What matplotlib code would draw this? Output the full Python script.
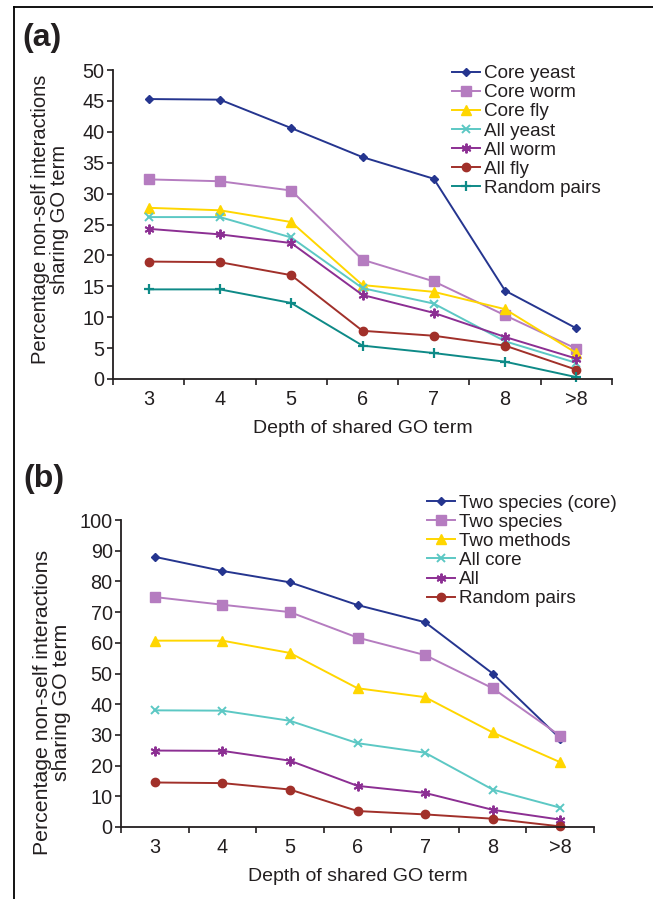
import matplotlib
matplotlib.use("Agg")
import matplotlib.pyplot as plt
from matplotlib.lines import Line2D

plt.rcParams['font.family'] = ['Liberation Sans', 'DejaVu Sans']
TXT = '#231f20'
plt.rcParams['text.color'] = TXT
plt.rcParams['axes.labelcolor'] = TXT
plt.rcParams['xtick.color'] = TXT
plt.rcParams['ytick.color'] = TXT

depths = ['3', '4', '5', '6', '7', '8', '>8']

# Panel (a)
core_yeast = [45.3, 45.2, 40.6, 35.9, 32.4, 14.3, 8.2]
core_worm = [32.3, 32.0, 30.5, 19.3, 15.8, 10.3, 4.9]
core_fly = [27.7, 27.3, 25.4, 15.2, 14.1, 11.3, 4.2]
all_yeast = [26.2, 26.2, 22.9, 14.7, 12.2, 6.1, 2.6]
all_worm = [24.3, 23.4, 22.0, 13.6, 10.7, 6.8, 3.3]
all_fly = [19.0, 18.9, 16.8, 7.8, 7.0, 5.4, 1.5]
random_a = [14.5, 14.5, 12.3, 5.4, 4.2, 2.8, 0.3]

# Panel (b)
two_species_core = [88.0, 83.4, 79.7, 72.3, 66.7, 50.0, 28.8]
two_species = [74.9, 72.4, 70.0, 61.7, 56.0, 45.2, 29.7]
two_methods = [60.7, 60.7, 56.7, 45.2, 42.3, 30.8, 21.1]
all_core = [38.0, 37.9, 34.6, 27.3, 24.2, 12.2, 6.3]
all_b = [24.9, 24.8, 21.6, 13.4, 11.1, 5.6, 2.4]
random_b = [14.5, 14.3, 12.2, 5.2, 4.1, 2.7, 0.2]

YLABEL = 'Percentage non-self interactions\nsharing GO term'
XLABEL = 'Depth of shared GO term'

NAVY = '#25358f'
ORCHID = '#b57cc0'
YELLOW = '#ffd600'
TURQ = '#5cc8c4'
PURPLE = '#8c2f93'
DRED = '#a1302a'
TEAL = '#0e8a87'

W, H = 653, 899
fig = plt.figure(figsize=(W / 100, H / 100), dpi=100)

FS_TICK = 14.3
FS_XLAB = 14
FS_LEG = 13.6

def px_rect(l, t, r, b):
    return [l / W, 1 - b / H, (r - l) / W, (b - t) / H]

def style_axes(ax, ymax, ystep):
    x = list(range(len(depths)))
    ax.set_xlim(-0.5, len(depths) - 0.5)
    ax.set_ylim(0, ymax)
    ax.set_yticks(list(range(0, ymax + 1, ystep)))
    ax.set_xticks(x)
    ax.set_xticklabels(depths)
    ax.set_xticks([i - 0.5 for i in range(len(depths) + 1)], minor=True)
    ax.tick_params(axis='x', which='major', length=0, pad=8, labelsize=FS_TICK)
    ax.tick_params(axis='x', which='minor', length=4, width=1.2, direction='out')
    ax.tick_params(axis='y', length=4, width=1.2, direction='out', pad=2, labelsize=FS_TICK)
    for s in ['top', 'right']:
        ax.spines[s].set_visible(False)
    for s in ['left', 'bottom']:
        ax.spines[s].set_linewidth(1.3)
        ax.spines[s].set_color(TXT)
    ax.set_xlabel(XLABEL, fontsize=FS_XLAB, labelpad=8)

def ylabel(cx_px, cy_px, fs):
    fig.text(cx_px / W, 1 - cy_px / H, YLABEL, rotation=90, ha='center', va='center',
             multialignment='center', fontsize=fs, linespacing=1.0)

def series(ax, vals, color, marker, ms, label, mew=1.0):
    ax.plot(range(len(vals)), vals, color=color, marker=marker, markersize=ms,
            markeredgecolor=color, markerfacecolor=color, markeredgewidth=mew,
            linewidth=1.4, label=label, clip_on=False)

AST = (6, 2, 0)

def legend(ax, x_px, top_px):
    ax.legend(loc='upper left', bbox_to_anchor=(x_px / W, 1 - top_px / H),
              bbox_transform=fig.transFigure, frameon=False, fontsize=FS_LEG,
              borderpad=0, borderaxespad=0, handlelength=1.5, handletextpad=0.2,
              labelspacing=0.1)

# ---------- (a)
axa = fig.add_axes(px_rect(113, 70, 612, 379))
series(axa, core_yeast, NAVY, 'D', 4.5, 'Core yeast')
series(axa, core_worm, ORCHID, 's', 6.5, 'Core worm')
series(axa, core_fly, YELLOW, '^', 7, 'Core fly')
series(axa, all_yeast, TURQ, 'x', 6, 'All yeast', mew=1.4)
series(axa, all_worm, PURPLE, AST, 7, 'All worm', mew=1.4)
series(axa, all_fly, DRED, 'o', 6, 'All fly')
series(axa, random_a, TEAL, '+', 7, 'Random pairs', mew=1.6)
style_axes(axa, 50, 5)
legend(axa, 452, 65)
ylabel(50, 219, 14.5)

# ---------- (b)
axb = fig.add_axes(px_rect(121, 520, 594, 827))
series(axb, two_species_core, NAVY, 'D', 4.5, 'Two species (core)')
series(axb, two_species, ORCHID, 's', 6.5, 'Two species')
series(axb, two_methods, YELLOW, '^', 7, 'Two methods')
series(axb, all_core, TURQ, 'x', 6, 'All core', mew=1.4)
series(axb, all_b, PURPLE, AST, 7, 'All', mew=1.4)
series(axb, random_b, DRED, 'o', 6, 'Random pairs')
style_axes(axb, 100, 10)
legend(axb, 427, 494.5)
ylabel(52, 702, 15.3)

# panel labels
fig.text(22 / W, 1 - 38 / H, '(a)', fontsize=23, fontweight='bold', va='center', ha='left')
fig.text(23 / W, 1 - 479 / H, '(b)', fontsize=23, fontweight='bold', va='center', ha='left')

# border lines
fig.add_artist(Line2D([14 / W, 14 / W], [0, 1 - 7 / H], transform=fig.transFigure,
                      color='black', linewidth=1.3))
fig.add_artist(Line2D([14 / W, 1], [1 - 7 / H, 1 - 7 / H], transform=fig.transFigure,
                      color='black', linewidth=1.3))

fig.savefig('out.png', dpi=100)
